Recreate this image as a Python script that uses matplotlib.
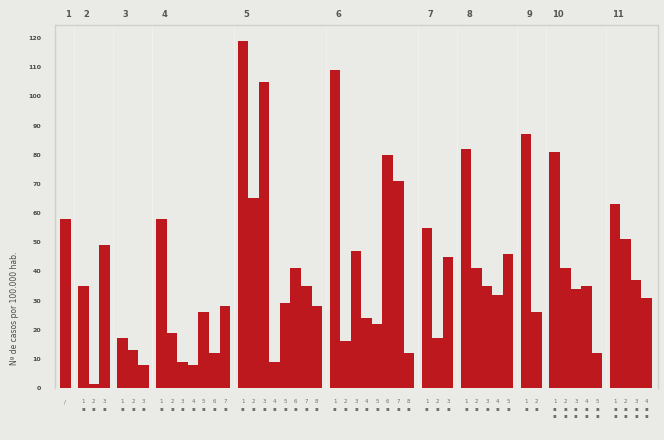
import matplotlib
matplotlib.use("Agg")
import matplotlib.pyplot as plt

# ---- data ----
group_labels = ["1", "2", "3", "4", "5", "6", "7", "8", "9", "10", "11"]
g1 = [58]
g2 = [35, 1.5, 49]
g3 = [17, 13, 8]
g4 = [58, 19, 9, 8, 26, 12, 28]
g5 = [119, 65, 105, 9, 29, 41, 35, 28]
g6 = [109, 16, 47, 24, 22, 80, 71, 12]
g7 = [55, 17, 45]
g8 = [82, 41, 35, 32, 46]
g9 = [87, 26]
g10 = [81, 41, 34, 35, 12]
g11 = [63, 51, 37, 31]
groups = [g1, g2, g3, g4, g5, g6, g7, g8, g9, g10, g11]
y_ticks = list(range(0, 130, 10))
y_label = "Nº de casos por 100.000 hab."

# ---- style ----
BG = "#eaeae7"
BAR = "#bd181d"
TXT = "#4a4a4a"
GAP = 0.7

fig = plt.figure(figsize=(6.64, 4.40), dpi=100, facecolor=BG)
ax = fig.add_axes([55 / 664, 1 - 388 / 440, 603 / 664, 363 / 440])
ax.set_facecolor(BG)

pos = 0.0
xs_all, tick_labels, sep_x, first_x = [], [], [], []
for gi, vals in enumerate(groups):
    xs = [pos + i for i in range(len(vals))]
    ax.bar(xs, vals, width=1.0, color=BAR, edgecolor="none", zorder=3)
    first_x.append(xs[0])
    for i, x in enumerate(xs):
        xs_all.append(x)
        if gi == 0:
            tick_labels.append("/")
        elif gi >= 9:
            tick_labels.append(f"{i + 1}\n▪\n▪")
        else:
            tick_labels.append(f"{i + 1}\n▪")
    pos += len(vals) + GAP
    if gi < len(groups) - 1:
        sep_x.append(xs[-1] + 0.5 + GAP / 2)

for x in sep_x:
    ax.axvline(x, color="#f1f0ec", lw=0.8, zorder=1)

ax.set_xlim(-0.97, xs_all[-1] + 1.07)
ax.set_ylim(0, 124.5)
ax.set_yticks(y_ticks)
ax.set_yticklabels([str(t) for t in y_ticks], fontsize=4.5, color=TXT,
                   fontweight="bold")
ax.tick_params(axis="y", length=0, pad=10)
ax.set_xticks(xs_all)
ax.set_xticklabels(tick_labels, fontsize=4, color="#6f6f6f", linespacing=1.5)
ax.tick_params(axis="x", length=0, pad=8)

ax.spines["bottom"].set_visible(False)
for s in ["left", "top", "right"]:
    ax.spines[s].set_color("#cfcfcb")
    ax.spines[s].set_linewidth(1.0)

for x, lab in zip(first_x, group_labels):
    ax.text(x + 0.3, 1.03, lab, transform=ax.get_xaxis_transform(),
            ha="center", va="center", fontsize=6, color="#555555",
            fontweight="bold")

fig.text(15 / 664, 1 - 308 / 440, y_label, rotation=90, ha="center",
         va="center", fontsize=5.5, color=TXT)

fig.savefig("out.png", dpi=100, facecolor=BG)
